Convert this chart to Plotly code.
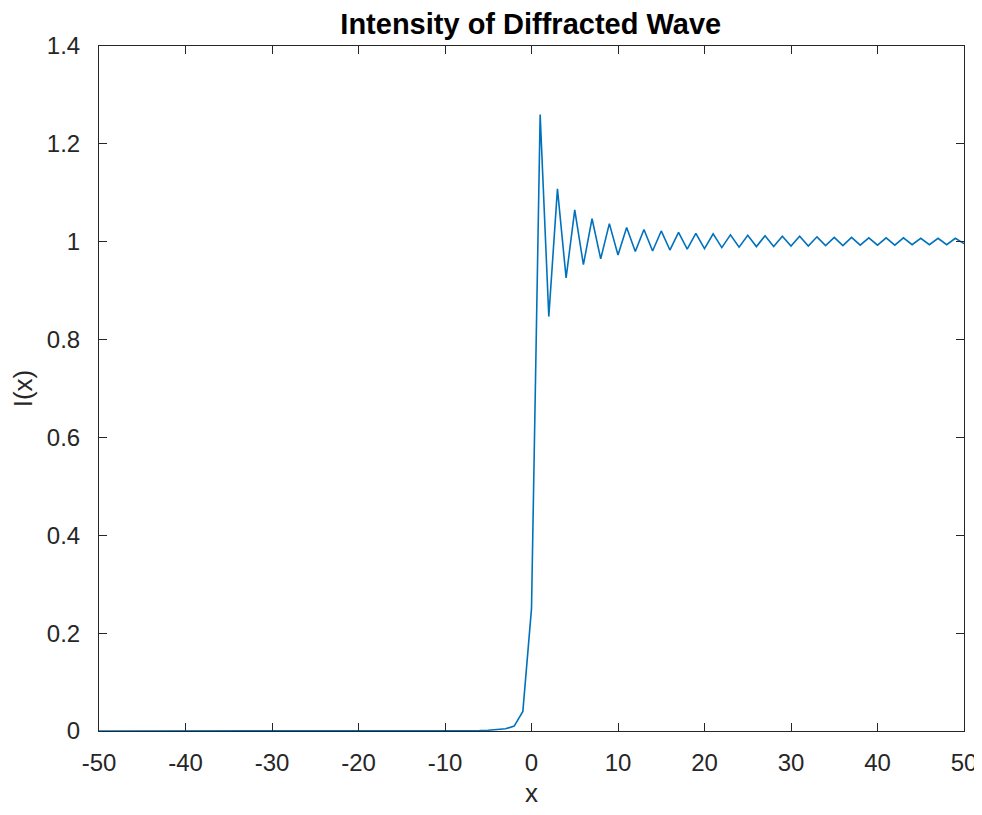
import plotly.graph_objects as go

x_vals = list(range(-50, 51))

intensity_neg = [
    0.00002, 0.00002, 0.00002, 0.00002, 0.00002,
    0.00002, 0.00002, 0.00002, 0.00003, 0.00003,
    0.00003, 0.00003, 0.00003, 0.00003, 0.00003,
    0.00004, 0.00004, 0.00004, 0.00004, 0.00004,
    0.00005, 0.00005, 0.00005, 0.00006, 0.00006,
    0.00006, 0.00007, 0.00008, 0.00008, 0.00009,
    0.0001, 0.0001, 0.0001, 0.0001, 0.0002,
    0.0002, 0.0002, 0.0002, 0.0003, 0.0003,
    0.0004, 0.0005, 0.0006, 0.0008, 0.0011,
    0.0016, 0.0025, 0.0045, 0.010, 0.040,
]
intensity_zero = [0.250]
intensity_pos = [
    1.260, 0.847, 1.108, 0.926, 1.065, 0.953, 1.047, 0.965, 1.037, 0.973,
    1.029, 0.980, 1.025, 0.981, 1.022, 0.983, 1.019, 0.985, 1.017, 0.986,
    1.016, 0.988, 1.014, 0.989, 1.013, 0.990, 1.012, 0.990, 1.011, 0.991,
    1.011, 0.991, 1.010, 0.992, 1.009, 0.992, 1.009, 0.993, 1.008, 0.993,
    1.008, 0.993, 1.008, 0.994, 1.007, 0.994, 1.007, 0.994, 1.007, 0.996,
]
intensity = intensity_neg + intensity_zero + intensity_pos

x_ticks = [-50, -40, -30, -20, -10, 0, 10, 20, 30, 40, 50]
y_ticks = [0, 0.2, 0.4, 0.6, 0.8, 1.0, 1.2, 1.4]

font_family = "Liberation Sans, Arial, Helvetica, sans-serif"
axis_col = "#262626"

fig = go.Figure()
fig.add_trace(go.Scatter(
    x=x_vals, y=intensity, mode="lines",
    line=dict(color="#0072BD", width=1.6),
    showlegend=False,
))

common_axis = dict(
    showgrid=False, zeroline=False, showline=True, mirror="ticks",
    linecolor=axis_col, linewidth=1,
    ticks="inside", ticklen=8, tickwidth=1, tickcolor=axis_col,
    tickfont=dict(family=font_family, size=24, color=axis_col),
    ticklabeloverflow="allow", automargin=False,
)

# page body adds an 8px margin, so the figure is offset by 8px
fig.update_layout(
    width=974, height=799,
    paper_bgcolor="white", plot_bgcolor="white",
    margin=dict(l=91, r=18, t=38, b=76),
    title=dict(
        text="<b>Intensity of Diffracted Wave</b>",
        x=0.5367, xanchor="center", y=0.993, yanchor="top",
        font=dict(family=font_family, size=29, color="#000000"),
    ),
    xaxis=dict(
        range=[-50, 50], tickvals=x_ticks,
        ticktext=[str(v) for v in x_ticks],
        ticklabelstandoff=10,
        **common_axis,
    ),
    yaxis=dict(
        range=[0, 1.4], tickvals=y_ticks,
        title=dict(text="I(x)", font=dict(family=font_family, size=26, color=axis_col), standoff=12),
        ticklabelstandoff=13,
        **common_axis,
    ),
    annotations=[dict(
        text="x", xref="paper", yref="paper", x=0.5, y=-0.091,
        xanchor="center", yanchor="middle", showarrow=False,
        font=dict(family=font_family, size=26, color=axis_col),
    )],
)

fig.write_html("out.html")
